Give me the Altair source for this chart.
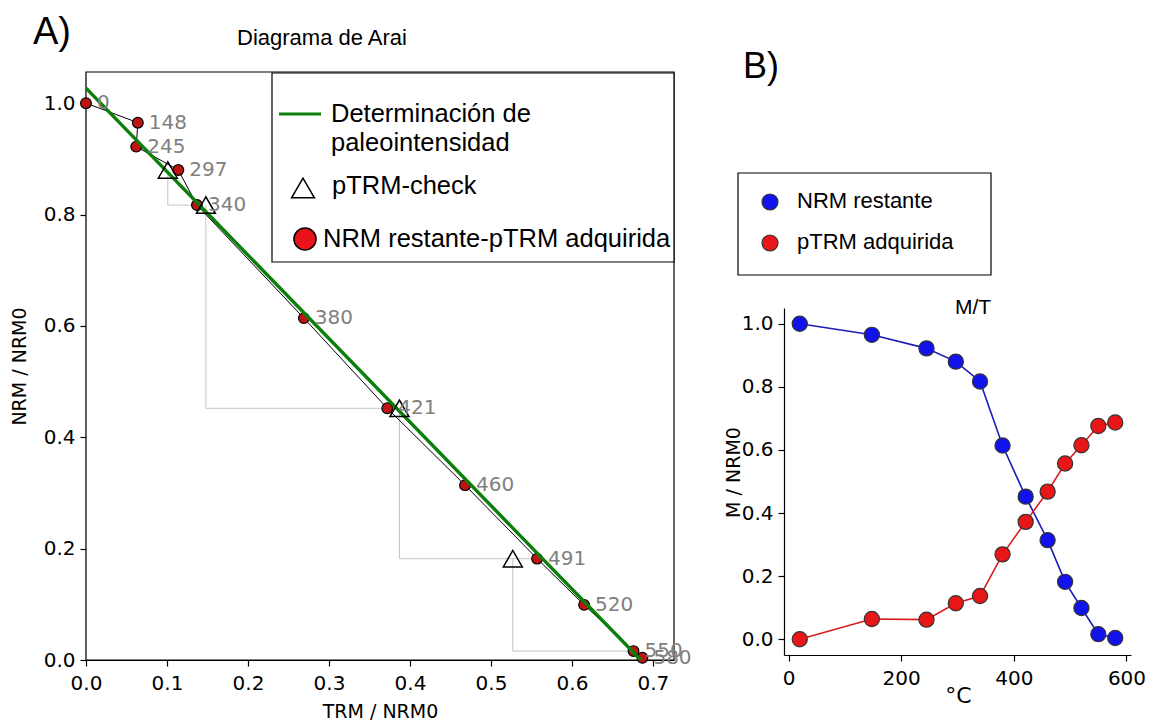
import altair as alt
import pandas as pd

# Thermal steps (°C) with the remaining NRM and the acquired pTRM, both normalised by NRM0
temps = [20, 148, 245, 297, 340, 380, 421, 460, 491, 520, 550, 580]
step_labels = ["0", "148", "245", "297", "340", "380", "421", "460", "491", "520", "550", "580"]
nrm_remaining = [1.000, 0.965, 0.922, 0.880, 0.817, 0.614, 0.452, 0.314, 0.182, 0.099, 0.016, 0.004]
ptrm_acquired = [0.000, 0.064, 0.062, 0.114, 0.137, 0.269, 0.372, 0.468, 0.557, 0.615, 0.676, 0.687]

# pTRM checks: repeated temperature, pTRM measured in the check, step after which it was run
check_temps = [297, 340, 421, 491]
check_ptrm = [0.101, 0.148, 0.387, 0.527]
check_after = [340, 421, 491, 550]

# Segment fitted for the paleointensity determination
fit_trm = [0.0, 0.685]
fit_nrm = [1.027, 0.0]

arai_xticks = [0.0, 0.1, 0.2, 0.3, 0.4, 0.5, 0.6, 0.7]
arai_yticks = [0.0, 0.2, 0.4, 0.6, 0.8, 1.0]
mt_xticks = [0, 200, 400, 600]
mt_yticks = [0.0, 0.2, 0.4, 0.6, 0.8, 1.0]

series_names = ["NRM restante", "pTRM adquirida"]
series_fill = ["#1212ec", "#e81616"]
series_line = ["#1c1cb8", "#d81c1c"]

# Canvas and panel frames (pixels)
W, H = 1154, 722
A_L, A_R, A_T, A_B = 86, 674, 72, 660
M_L, M_R, M_T, M_B = 784, 1131, 308, 655

# ---------- tables ----------
steps_df = pd.DataFrame({
    "temp": temps, "label": step_labels,
    "nrm": nrm_remaining, "trm": ptrm_acquired,
    "step": list(range(len(temps))),
})

nrm_at = dict(zip(temps, nrm_remaining))
trm_at = dict(zip(temps, ptrm_acquired))
tri_rows, path_rows = [], []
for i, (t, c, a) in enumerate(zip(check_temps, check_ptrm, check_after)):
    tri_rows.append({"trm": c, "nrm": nrm_at[t]})
    path_rows += [
        {"check": i, "seq": 0, "trm": c, "nrm": nrm_at[t]},
        {"check": i, "seq": 1, "trm": c, "nrm": nrm_at[a]},
        {"check": i, "seq": 2, "trm": trm_at[a], "nrm": nrm_at[a]},
    ]
tri_df = pd.DataFrame(tri_rows)
check_df = pd.DataFrame(path_rows)
fit_df = pd.DataFrame({"trm": fit_trm, "nrm": fit_nrm})

mt_df = pd.concat([
    pd.DataFrame({"temp": temps, "m": nrm_remaining, "series": series_names[0]}),
    pd.DataFrame({"temp": temps, "m": ptrm_acquired, "series": series_names[1]}),
])
one = pd.DataFrame({"k": [0]})

# ---------- axes ----------
axis_common = dict(
    domainColor="black", domainWidth=1.2, tickColor="black", tickWidth=1.2,
    tickSize=6, labelFont="DejaVu Sans", labelColor="black", labelFontSize=20,
    titleFont="DejaVu Sans", titleFontWeight="normal", titleColor="black",
    titleBaseline="middle", titleAlign="center",
    grid=False, labelFlush=False, labelOverlap=False,
)

arai_xaxis = alt.Axis(orient="bottom", offset=A_B - H, values=arai_xticks, format=".1f",
                      labelPadding=7, title="TRM / NRM0", titleFontSize=19,
                      titleX=(A_L + A_R) / 2, titleY=51, **axis_common)
arai_yaxis = alt.Axis(orient="left", offset=-A_L, values=arai_yticks, format=".1f",
                      labelPadding=5, title="NRM / NRM0", titleFontSize=19, titleAngle=270,
                      titleX=19 - A_L, titleY=(A_T + A_B) / 2, **axis_common)
mt_xaxis = alt.Axis(orient="bottom", offset=M_B - H, values=mt_xticks, format="d",
                    labelPadding=7, title="°C", titleFontSize=22,
                    titleX=958, titleY=40, **axis_common)
mt_yaxis = alt.Axis(orient="left", offset=-M_L, values=mt_yticks, format=".1f",
                    labelPadding=5, title="M / NRM0", titleFontSize=19, titleAngle=270,
                    titleX=733 - M_L, titleY=472, **axis_common)

ax_x = alt.X("trm:Q", scale=alt.Scale(domain=[0, 0.726], range=[A_L, A_R], nice=False, zero=False), axis=arai_xaxis)
ax_y = alt.Y("nrm:Q", scale=alt.Scale(domain=[0, 1.056], range=[A_B, A_T], nice=False, zero=False), axis=arai_yaxis)
mt_x = alt.X("temp:Q", scale=alt.Scale(domain=[-8, 608], range=[M_L, M_R], nice=False, zero=False), axis=mt_xaxis)
mt_y = alt.Y("m:Q", scale=alt.Scale(domain=[-0.05, 1.05], range=[M_B, M_T], nice=False, zero=False), axis=mt_yaxis)

# ---------- Arai diagram ----------
frame = alt.Chart(one).mark_rect(fill="white", stroke="black", strokeWidth=1.2).encode(
    x=alt.value(A_L), x2=alt.value(A_R), y=alt.value(A_T), y2=alt.value(A_B))
checks = alt.Chart(check_df).mark_line(color="#c4c4c4", strokeWidth=1).encode(
    x=ax_x, y=ax_y, detail="check:N", order="seq:O")
path = alt.Chart(steps_df).mark_line(color="black", strokeWidth=1).encode(
    x=ax_x, y=ax_y, order="step:O")
dots = alt.Chart(steps_df).mark_circle(color="#c01414", stroke="black", strokeWidth=1.2,
                                       size=115, opacity=1).encode(x=ax_x, y=ax_y)
fit = alt.Chart(fit_df).mark_line(color="#0a7f0a", strokeWidth=3.4).encode(x=ax_x, y=ax_y)
tris = alt.Chart(tri_df).mark_point(shape="triangle-up", size=360, filled=False, color="black",
                                    strokeWidth=1.5, opacity=1).encode(x=ax_x, y=ax_y)
labels = alt.Chart(steps_df).mark_text(align="left", baseline="middle", dx=11, font="DejaVu Sans",
                                       fontSize=20, color="#808080").encode(x=ax_x, y=ax_y, text="label:N")
arai = alt.layer(frame, checks, path, dots, fit, tris, labels)

# ---------- M/T curves ----------
mt_lines = alt.Chart(mt_df).mark_line(strokeWidth=1.6).encode(
    x=mt_x, y=mt_y, detail="series:N", order="temp:Q",
    stroke=alt.Stroke("series:N", scale=alt.Scale(domain=series_names, range=series_line), legend=None))
mt_dots = alt.Chart(mt_df).mark_circle(size=230, stroke="#333333", strokeWidth=1.2, opacity=1).encode(
    x=mt_x, y=mt_y,
    fill=alt.Fill("series:N", scale=alt.Scale(domain=series_names, range=series_fill), legend=None))
mt = alt.layer(mt_lines, mt_dots)


# ---------- titles and legends ----------
def txt(s, x, y, size, align="left", baseline="middle"):
    return alt.Chart(one).mark_text(text=s, align=align, baseline=baseline, font="Liberation Sans",
                                    fontSize=size, color="black").encode(x=alt.value(x), y=alt.value(y))


def box(x1, y1, x2, y2):
    return alt.Chart(one).mark_rect(fill="white", stroke="black", strokeWidth=1.2).encode(
        x=alt.value(x1), x2=alt.value(x2), y=alt.value(y1), y2=alt.value(y2))


def sym(x, y, shape, size, fill, stroke, sw):
    if fill is None:
        m = alt.Chart(one).mark_point(shape=shape, size=size, filled=False, color=stroke,
                                      strokeWidth=sw, opacity=1)
    else:
        m = alt.Chart(one).mark_point(shape=shape, size=size, filled=True, fill=fill, stroke=stroke,
                                      strokeWidth=sw, opacity=1)
    return m.encode(x=alt.value(x), y=alt.value(y))


legend_a = [
    box(272, 73, A_R, 262),
    alt.Chart(one).mark_rule(color="#0a7f0a", strokeWidth=3).encode(
        x=alt.value(279), x2=alt.value(321), y=alt.value(114)),
    txt("Determinación de", 331, 114, 25.5),
    txt("paleointensidad", 331, 143, 25.5),
    sym(303, 188, "triangle-up", 520, None, "black", 1.5),
    txt("pTRM-check", 332, 186, 25.5),
    sym(305, 239, "circle", 490, "#e8141a", "black", 1.5),
    txt("NRM restante-pTRM adquirida", 323, 239, 25.5),
]
legend_b = [
    box(738, 173, 991, 275),
    sym(770, 202, "circle", 255, series_fill[0], "#333333", 1.2),
    txt(series_names[0], 797, 201, 22),
    sym(770, 243, "circle", 255, series_fill[1], "#333333", 1.2),
    txt(series_names[1], 797, 242, 22),
]
headers = [
    txt("A)", 33, 44, 38, baseline="alphabetic"),
    txt("Diagrama de Arai", 322, 38, 22, align="center"),
    txt("B)", 743, 78, 36, baseline="alphabetic"),
    txt("M/T", 973, 308, 21, align="center"),
]

chart = alt.layer(arai, mt, *legend_a, *legend_b, *headers).resolve_scale(
    x="independent", y="independent"
).properties(
    width=W, height=H, padding=0, autosize=alt.AutoSizeParams(type="none"), background="white"
).configure_view(stroke=None)

chart.save("out.html", embed_options={"renderer": "svg", "actions": False})
